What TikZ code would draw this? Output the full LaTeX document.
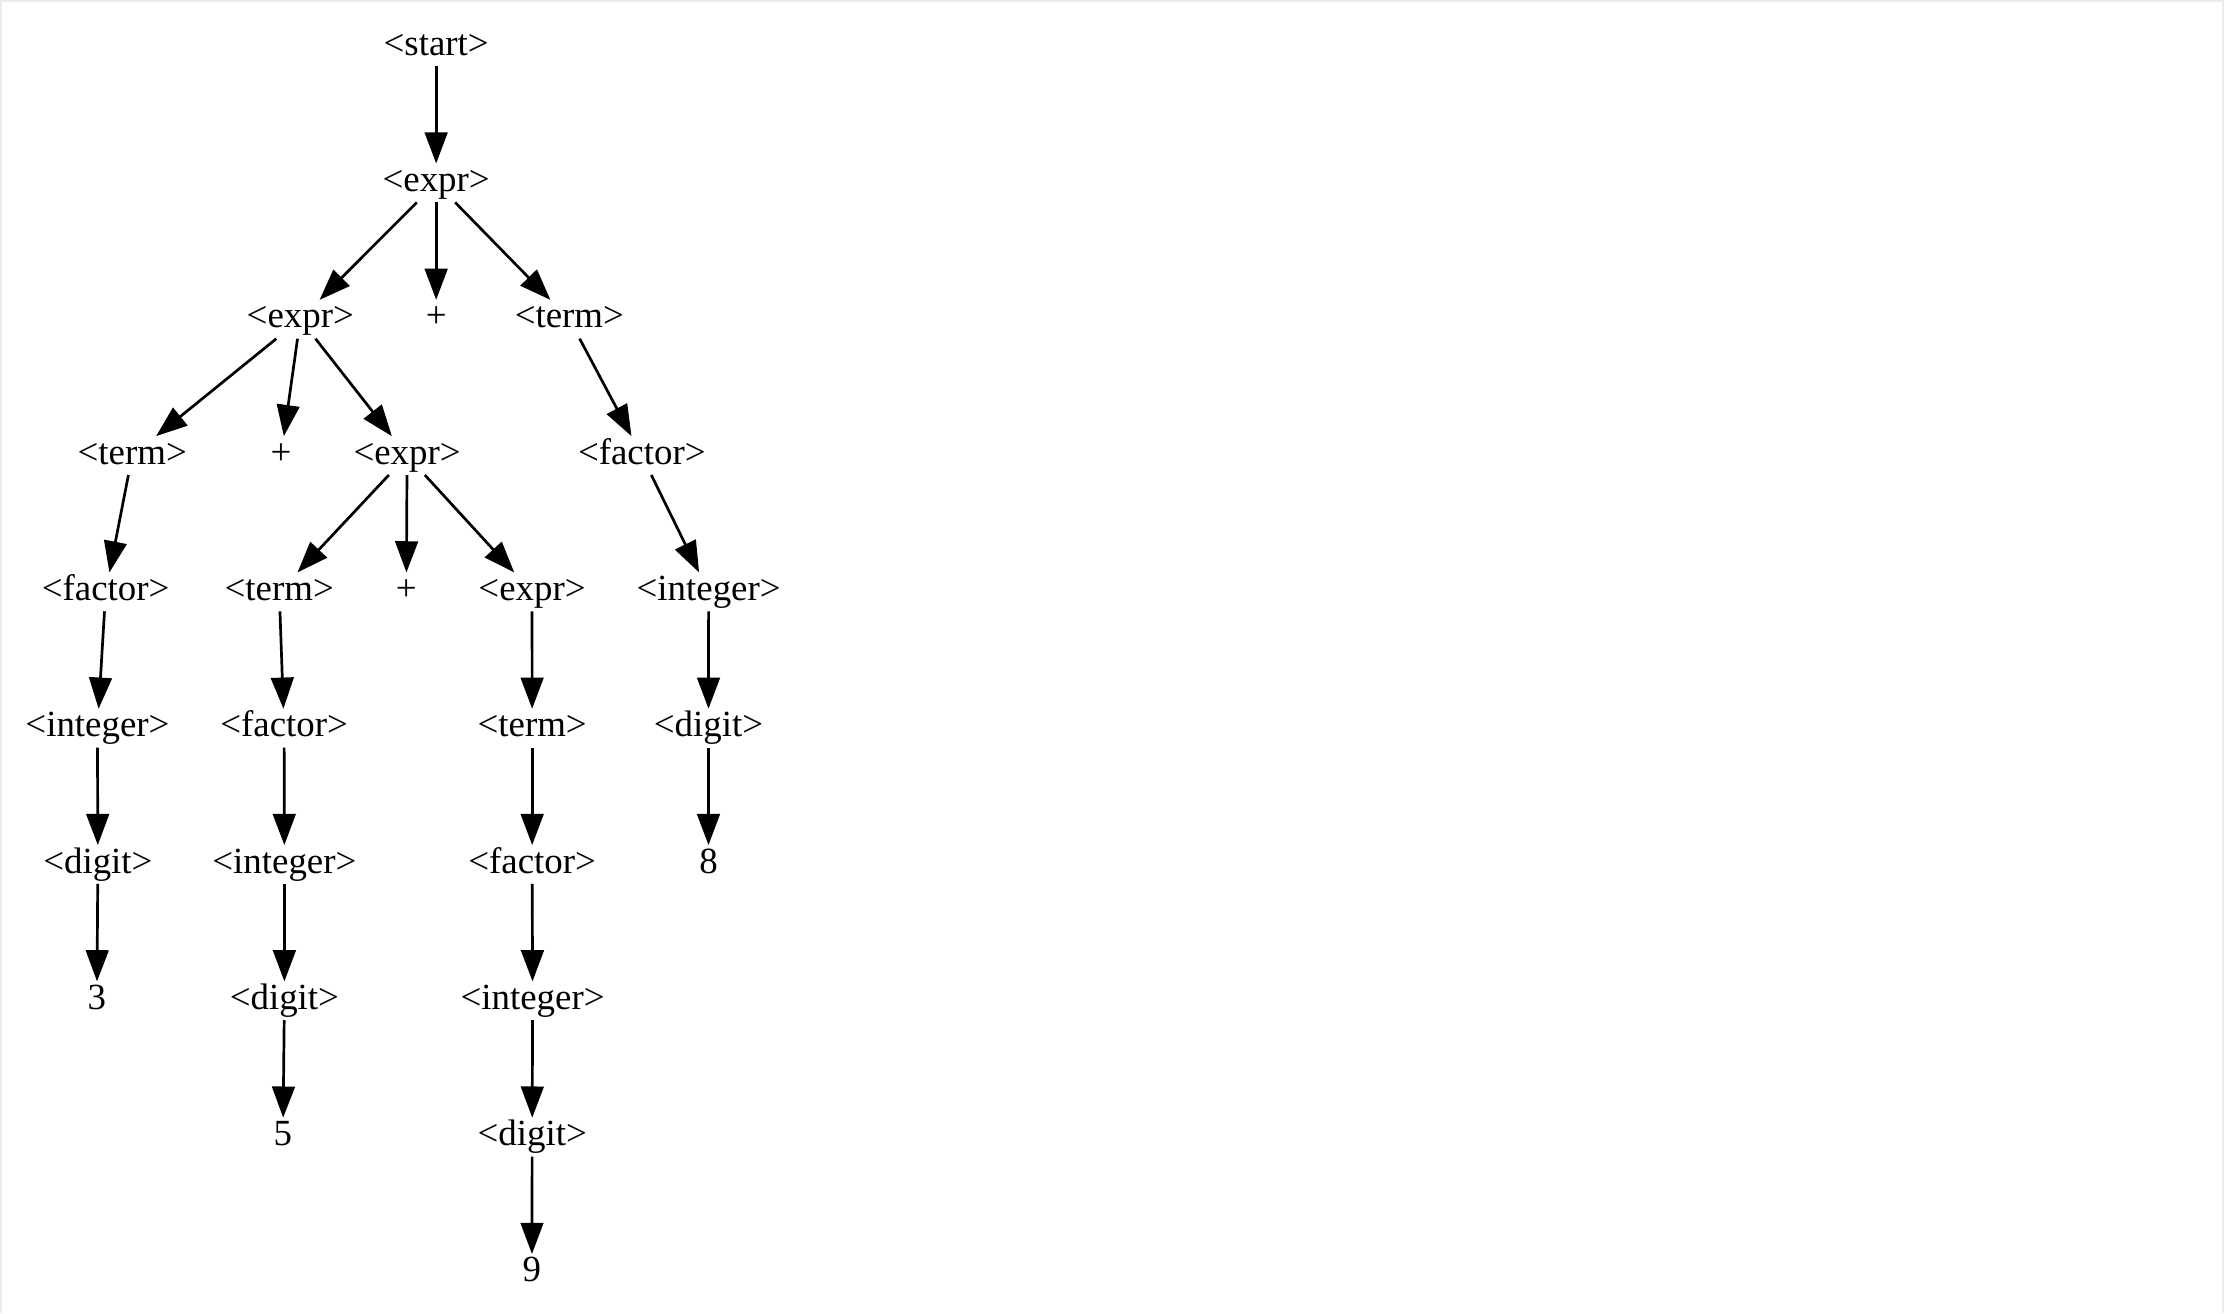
\documentclass[tikz,border=0pt]{standalone}
\usepackage{fontspec}
\setmainfont{Liberation Serif}
\usetikzlibrary{arrows.meta}
\definecolor{framegray}{RGB}{236,236,236}
\begin{document}
\begin{tikzpicture}[x=1pt,y=-1pt,
  sym/.style={rectangle, inner sep=0pt, text height=19.5pt, text depth=7.5pt,
              font=\fontsize{26}{31}\selectfont},
  edge/.style={line width=1.9pt, -{Triangle[length=22pt,width=16pt]}}]
\useasboundingbox (0,0) rectangle (1568,926);
\fill[white] (0,0) rectangle (1568,926);
\draw[framegray, line width=1.4pt] (0.7,926) -- (0.7,0.7) -- (1567.3,0.7) -- (1567.3,926);

% rows of the parse tree
\node[sym] (start) at (307.5, 32.9) {<start>};
\node[sym] (e1) at (307.5, 129.0) {<expr>};
\node[sym] (e2) at (211.7, 225.1) {<expr>};
\node[sym] (p1) at (307.5, 225.1) {+};
\node[sym] (t1) at (401.4, 225.1) {<term>};
\node[sym] (t2) at (93.2, 321.2) {<term>};
\node[sym] (p2) at (198.2, 321.2) {+};
\node[sym] (e3) at (287.0, 321.2) {<expr>};
\node[sym] (f1) at (452.5, 321.2) {<factor>};
\node[sym] (f2) at (74.5, 417.3) {<factor>};
\node[sym] (t3) at (196.9, 417.3) {<term>};
\node[sym] (p3) at (286.5, 417.3) {+};
\node[sym] (e4) at (375.1, 417.3) {<expr>};
\node[sym] (i1) at (499.6, 417.3) {<integer>};
\node[sym] (i2) at (68.7, 513.4) {<integer>};
\node[sym] (f3) at (200.3, 513.4) {<factor>};
\node[sym] (t4) at (375.2, 513.4) {<term>};
\node[sym] (d1) at (499.5, 513.4) {<digit>};
\node[sym] (d2) at (69.0, 609.5) {<digit>};
\node[sym] (i3) at (200.5, 609.5) {<integer>};
\node[sym] (f4) at (375.2, 609.5) {<factor>};
\node[sym] (n8) at (499.5, 609.5) {8};
\node[sym] (n3) at (68.3, 705.6) {3};
\node[sym] (d3) at (200.5, 705.6) {<digit>};
\node[sym] (i4) at (375.5, 705.6) {<integer>};
\node[sym] (n5) at (199.5, 801.7) {5};
\node[sym] (d4) at (375.2, 801.7) {<digit>};
\node[sym] (n9) at (375.0, 897.8) {9};

% derivation edges
\draw[edge] (start) -- (e1);
\draw[edge] (e1) -- (e2);
\draw[edge] (e1) -- (p1);
\draw[edge] (e1) -- (t1);
\draw[edge] (e2) -- (t2);
\draw[edge] (e2) -- (p2);
\draw[edge] (e2) -- (e3);
\draw[edge] (t1) -- (f1);
\draw[edge] (t2) -- (f2);
\draw[edge] (e3) -- (t3);
\draw[edge] (e3) -- (p3);
\draw[edge] (e3) -- (e4);
\draw[edge] (f1) -- (i1);
\draw[edge] (f2) -- (i2);
\draw[edge] (t3) -- (f3);
\draw[edge] (e4) -- (t4);
\draw[edge] (i1) -- (d1);
\draw[edge] (i2) -- (d2);
\draw[edge] (f3) -- (i3);
\draw[edge] (t4) -- (f4);
\draw[edge] (d1) -- (n8);
\draw[edge] (d2) -- (n3);
\draw[edge] (i3) -- (d3);
\draw[edge] (f4) -- (i4);
\draw[edge] (d3) -- (n5);
\draw[edge] (i4) -- (d4);
\draw[edge] (d4) -- (n9);
\end{tikzpicture}
\end{document}
